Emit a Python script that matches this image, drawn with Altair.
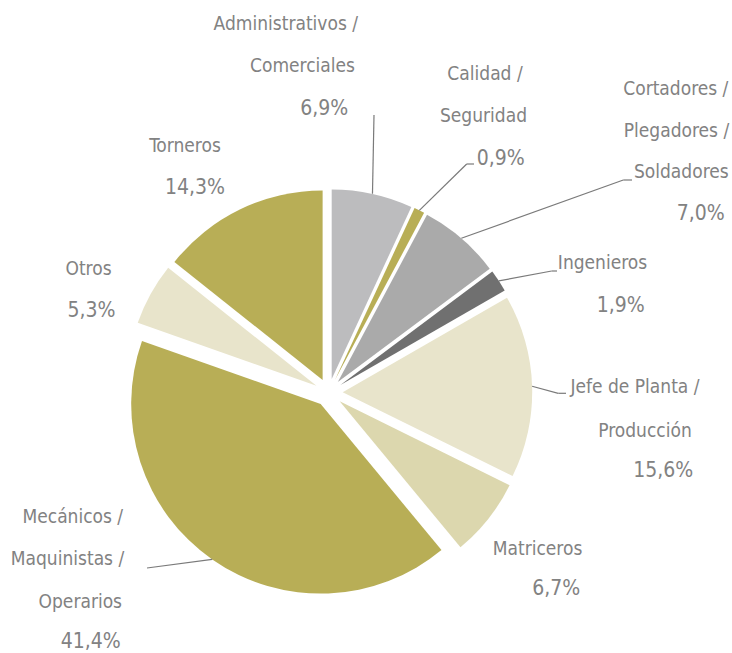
import math

import altair as alt
import pandas as pd

# Distribución de perfiles (%)
categories = [
    "Administrativos / Comerciales",
    "Calidad / Seguridad",
    "Cortadores / Plegadores / Soldadores",
    "Ingenieros",
    "Jefe de Planta / Producción",
    "Matriceros",
    "Mecánicos / Maquinistas / Operarios",
    "Otros",
    "Torneros",
]
shares = [6.9, 0.9, 7.0, 1.9, 15.6, 6.7, 41.4, 5.3, 14.3]
colors = [
    "#bcbcbe", "#b8ae56", "#aaaaaa", "#707070", "#e8e4cb",
    "#dcd7ae", "#b8ae56", "#e8e4cb", "#b8ae56",
]

# Pie geometry (pixels)
CX, CY = 328.7, 392.6
RADIUS = 189.5
EXPLODE = 14

# Label line anchors: (centre x, baseline y) for each text line
LABEL_POS = {
    "Administrativos / Comerciales": [(285.8, 30), (302.5, 71.7), (324.2, 115)],
    "Calidad / Seguridad": [(485, 80), (483.5, 121.7), (500.8, 165)],
    "Cortadores / Plegadores / Soldadores": [(675.8, 95), (676.5, 136.7), (681.3, 178.3), (700.8, 220)],
    "Ingenieros": [(602.5, 269.3), (620.8, 311.7)],
    "Jefe de Planta / Producción": [(635, 393.3), (645, 436.7), (663.3, 476.7)],
    "Matriceros": [(537.5, 555), (556.2, 595)],
    "Mecánicos / Maquinistas / Operarios": [(72.8, 523.3), (67.5, 565), (80.3, 608.3), (90.8, 648.3)],
    "Otros": [(88.5, 275), (91.5, 317)],
    "Torneros": [(185, 151.7), (195, 194)],
}

# Leader lines: elbow point and end of the short horizontal tail
LEADERS = {
    "Administrativos / Comerciales": (374, 115, 374),
    "Calidad / Seguridad": (466.7, 164, 474),
    "Cortadores / Plegadores / Soldadores": (623.3, 180, 632),
    "Ingenieros": (551.7, 271, 557),
    "Jefe de Planta / Producción": (558.3, 393.3, 566),
    "Mecánicos / Maquinistas / Operarios": (147, 568, 147),
}

FONT = "Liberation Sans Narrow, DejaVu Sans Condensed, sans-serif"
NAME_SIZE = 19
PCT_SIZE = 21
TEXT_COLOR = "#828282"
LINE_COLOR = "#7a7a7a"

slices = pd.DataFrame({
    "categoria": categories,
    "pct": shares,
    "orden": list(range(len(categories))),
})
slices["ex"] = [LEADERS.get(c, (None, None, None))[0] for c in categories]
slices["ey"] = [LEADERS.get(c, (None, None, None))[1] for c in categories]
slices["tx"] = [LEADERS.get(c, (None, None, None))[2] for c in categories]


def fmt_pct(v):
    return f"{v:.1f}".replace(".", ",") + "%"


rows = []
for cat, val in zip(categories, shares):
    parts = cat.split(" / ")
    lines = [p + " /" for p in parts[:-1]] + [parts[-1]]
    anchors = LABEL_POS[cat]
    for text, (lx, ly) in zip(lines, anchors[:-1]):
        rows.append({"text": text, "lx": lx, "ly": ly, "size": NAME_SIZE})
    lx, ly = anchors[-1]
    rows.append({"text": fmt_pct(val), "lx": lx, "ly": ly, "size": PCT_SIZE})
labels_df = pd.DataFrame(rows)


def with_angles(chart):
    return (
        chart.transform_joinaggregate(total="sum(pct)")
        .transform_window(cum="sum(pct)", sort=[alt.SortField("orden")], frame=[None, 0])
        .transform_calculate(
            start="datum.cum - datum.pct",
            end="datum.cum",
            mid="2*PI*(datum.cum - datum.pct/2)/datum.total",
        )
        .transform_calculate(
            px=f"{CX} + {EXPLODE}*sin(datum.mid)",
            py=f"{CY} - {EXPLODE}*cos(datum.mid)",
            sx=f"{CX} + {RADIUS + EXPLODE}*sin(datum.mid)",
            sy=f"{CY} - {RADIUS + EXPLODE}*cos(datum.mid)",
        )
    )


pie = with_angles(alt.Chart(slices)).mark_arc(outerRadius=RADIUS).encode(
    theta=alt.Theta("start:Q", stack=None,
                    scale=alt.Scale(domain=[0, 100], range=[0, 2 * math.pi])),
    theta2="end:Q",
    x=alt.X("px:Q", scale=None, axis=None),
    y=alt.Y("py:Q", scale=None, axis=None),
    color=alt.Color("categoria:N", scale=alt.Scale(domain=categories, range=colors), legend=None),
)

leader = with_angles(alt.Chart(slices)).transform_filter("isValid(datum.ex)").mark_rule(
    color=LINE_COLOR, strokeWidth=1.2
).encode(
    x=alt.X("sx:Q", scale=None, axis=None),
    y=alt.Y("sy:Q", scale=None, axis=None),
    x2="ex:Q",
    y2="ey:Q",
)

tail = alt.Chart(slices).transform_filter("isValid(datum.ex)").mark_rule(
    color=LINE_COLOR, strokeWidth=1.2
).encode(
    x=alt.X("ex:Q", scale=None, axis=None),
    y=alt.Y("ey:Q", scale=None, axis=None),
    x2="tx:Q",
    y2="ey:Q",
)

labels = alt.Chart(labels_df).mark_text(
    align="center", baseline="alphabetic", font=FONT, color=TEXT_COLOR
).encode(
    x=alt.X("lx:Q", scale=None, axis=None),
    y=alt.Y("ly:Q", scale=None, axis=None),
    size=alt.Size("size:Q", scale=None, legend=None),
    text="text:N",
)

chart = (
    alt.layer(pie, leader, tail, labels)
    .properties(width=732, height=653, autosize="none", padding=0, background="white")
    .configure_view(stroke=None)
)

chart.save("out.html", embed_options={"renderer": "svg", "actions": False})
